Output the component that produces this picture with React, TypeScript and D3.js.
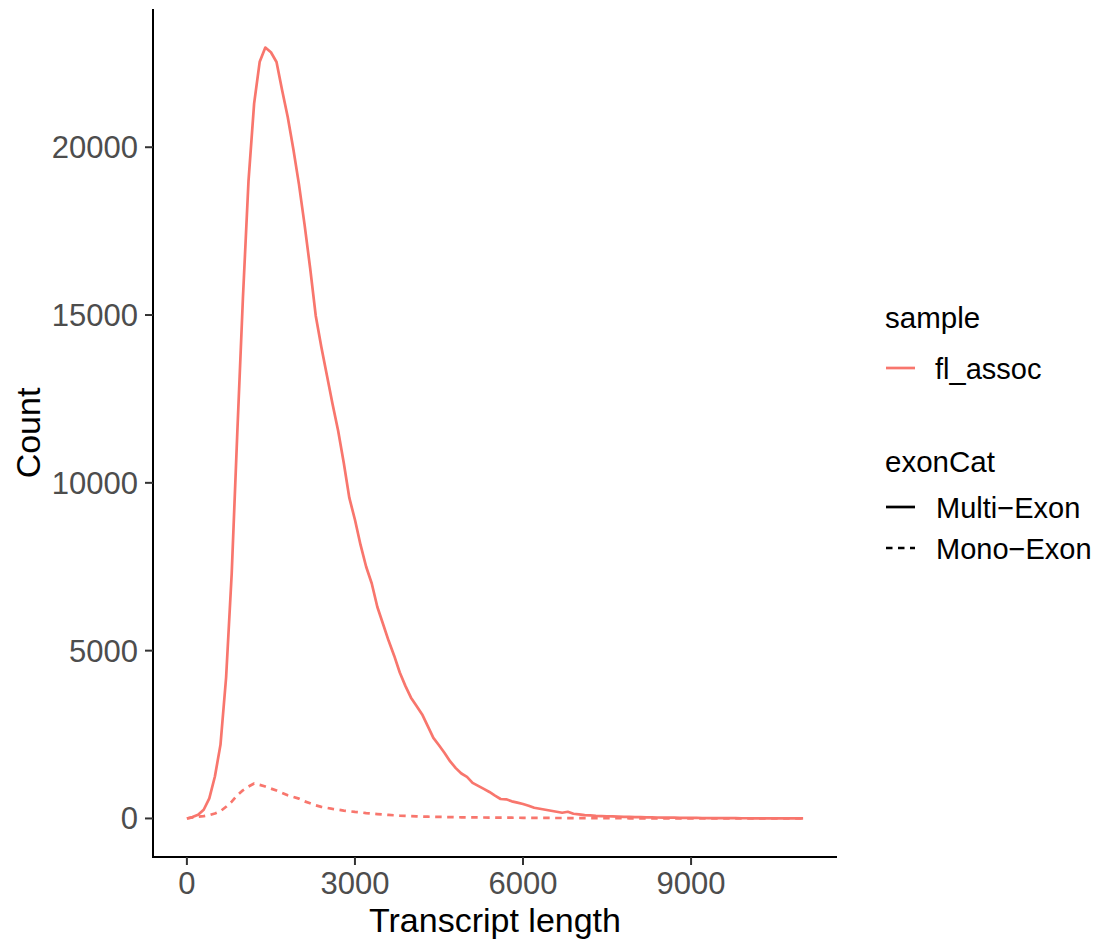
import React, { useRef, useEffect } from "react";
import { select, scaleLinear, line, max, range } from "d3";

const WIDTH = 1098;
const HEIGHT = 942;
const PANEL = { left: 153, right: 837, top: 9, bottom: 857 };
const FONT = "'Liberation Sans', Arial, Helvetica, sans-serif";
const COLOR_LINE = "#F8766D";
const COLOR_TICK_TEXT = "#4D4D4D";

// freqpoly bins, 100 bp wide
const BIN_WIDTH = 100;
const X_LIMITS = [-50, 11050];
const X_TICKS = [0, 3000, 6000, 9000];
const Y_TICKS = [0, 5000, 10000, 15000, 20000];

const MULTI_EXON = [
  0, 40, 110, 260, 600, 1250, 2200, 4200, 7300, 11500,
  15500, 19000, 21300, 22550, 22970, 22830, 22540, 21700, 20900, 19950,
  18900, 17700, 16400, 14980, 14050, 13200, 12350, 11550, 10600, 9550,
  8900, 8150, 7500, 7000, 6300, 5800, 5300, 4850, 4350, 3950,
  3600, 3350, 3100, 2750, 2400, 2180, 1950, 1700, 1500, 1340,
  1240, 1060, 970, 880, 790, 680, 580, 570, 510, 470,
  430, 380, 320, 290, 260, 230, 200, 170, 200, 140,
  120, 100, 90, 75, 70, 65, 60, 55, 50, 46,
  42, 38, 35, 32, 29, 26, 24, 22, 20, 18,
  16, 15, 13, 12, 11, 10, 9, 8, 7, 6,
  6, 5, 4, 4, 3, 3, 2, 2, 2, 1, 1,
];

const MONO_EXON = [
  0, 30, 50, 70, 100, 150, 220, 350, 500, 690,
  840, 950, 1040, 1000, 950, 890, 830, 760, 690, 640,
  590, 510, 450, 390, 345, 315, 285, 260, 235, 215,
  195, 180, 160, 145, 130, 118, 105, 95, 82, 75,
  68, 62, 57, 52, 49, 46, 43, 40, 37, 35,
  33, 31, 30, 28, 27, 26, 24, 23, 22, 21,
  20, 19, 18, 17, 16, 15, 14, 13, 12, 11,
  10, 9, 9, 8, 8, 7, 7, 6, 6, 5,
  5, 5, 4, 4, 4, 3, 3, 3, 3, 2,
  2, 2, 2, 2, 2, 1, 1, 1, 1, 1,
  1, 1, 1, 1, 1, 0, 0, 0, 0, 0, 0,
];

const SERIES = [
  { name: "Multi-Exon", label: "Multi\u2212Exon", values: MULTI_EXON, dash: null },
  { name: "Mono-Exon", label: "Mono\u2212Exon", values: MONO_EXON, dash: "6.5 5.5" },
];

const expand = (lo: number, hi: number) => {
  const pad = (hi - lo) * 0.05;
  return [lo - pad, hi + pad];
};

const addAxes = (svg, x, y) => {
  const axisColor = "#000000";

  svg
    .append("line")
    .attr("x1", PANEL.left)
    .attr("x2", PANEL.left)
    .attr("y1", PANEL.top)
    .attr("y2", PANEL.bottom)
    .attr("stroke", axisColor)
    .attr("stroke-width", 2);

  svg
    .append("line")
    .attr("x1", PANEL.left - 1)
    .attr("x2", PANEL.right)
    .attr("y1", PANEL.bottom)
    .attr("y2", PANEL.bottom)
    .attr("stroke", axisColor)
    .attr("stroke-width", 2);

  const yTicks = svg.append("g").selectAll("g").data(Y_TICKS).enter().append("g");
  yTicks
    .append("line")
    .attr("x1", PANEL.left - 8)
    .attr("x2", PANEL.left)
    .attr("y1", (d) => y(d))
    .attr("y2", (d) => y(d))
    .attr("stroke", "#333333")
    .attr("stroke-width", 2);
  yTicks
    .append("text")
    .attr("x", PANEL.left - 15)
    .attr("y", (d) => y(d) + 11)
    .attr("text-anchor", "end")
    .attr("font-family", FONT)
    .attr("font-size", 31)
    .attr("fill", COLOR_TICK_TEXT)
    .text((d) => String(d));

  const xTicks = svg.append("g").selectAll("g").data(X_TICKS).enter().append("g");
  xTicks
    .append("line")
    .attr("x1", (d) => x(d))
    .attr("x2", (d) => x(d))
    .attr("y1", PANEL.bottom)
    .attr("y2", PANEL.bottom + 8)
    .attr("stroke", "#333333")
    .attr("stroke-width", 2);
  xTicks
    .append("text")
    .attr("x", (d) => x(d))
    .attr("y", PANEL.bottom + 37)
    .attr("text-anchor", "middle")
    .attr("font-family", FONT)
    .attr("font-size", 31)
    .attr("fill", COLOR_TICK_TEXT)
    .text((d) => String(d));

  svg
    .append("text")
    .attr("x", (PANEL.left + PANEL.right) / 2)
    .attr("y", 932)
    .attr("text-anchor", "middle")
    .attr("font-family", FONT)
    .attr("font-size", 34)
    .attr("fill", "#000000")
    .text("Transcript length");

  svg
    .append("text")
    .attr("transform", `translate(40,${(PANEL.top + PANEL.bottom) / 2}) rotate(-90)`)
    .attr("text-anchor", "middle")
    .attr("font-family", FONT)
    .attr("font-size", 34)
    .attr("fill", "#000000")
    .text("Count");
};

const addLines = (svg, x, y, lengths) => {
  SERIES.forEach((s) => {
    const path = line<number>()
      .x((d, i) => x(lengths[i]))
      .y((d) => y(d));

    svg
      .append("path")
      .datum(s.values)
      .attr("fill", "none")
      .attr("stroke", COLOR_LINE)
      .attr("stroke-width", 2.7)
      .attr("stroke-linejoin", "round")
      .attr("stroke-dasharray", s.dash)
      .attr("d", path);
  });
};

const addLegend = (svg) => {
  const g = svg.append("g").attr("font-family", FONT).attr("fill", "#000000");

  g.append("text").attr("x", 885).attr("y", 328).attr("font-size", 29.5).text("sample");
  g.append("line")
    .attr("x1", 886)
    .attr("x2", 915)
    .attr("y1", 368)
    .attr("y2", 368)
    .attr("stroke", COLOR_LINE)
    .attr("stroke-width", 2.7);
  g.append("text").attr("x", 935).attr("y", 378.5).attr("font-size", 29).text("fl_assoc");

  g.append("text").attr("x", 885).attr("y", 472).attr("font-size", 29.5).text("exonCat");

  const keyY = [507, 548];
  SERIES.forEach((s, i) => {
    g.append("line")
      .attr("x1", 886)
      .attr("x2", 915)
      .attr("y1", keyY[i])
      .attr("y2", keyY[i])
      .attr("stroke", "#000000")
      .attr("stroke-width", 2.7)
      .attr("stroke-dasharray", s.dash);
    g.append("text")
      .attr("x", 936)
      .attr("y", keyY[i] + 10.5)
      .attr("font-size", 29)
      .text(s.label);
  });
};

export default function App() {
  const chartDomNode = useRef<HTMLDivElement>(null);

  useEffect(() => {
    document.body.style.margin = "0";
    const node = chartDomNode.current;
    if (!node) return;
    node.innerHTML = "";

    const lengths = range(MULTI_EXON.length).map((i) => i * BIN_WIDTH);
    const yMax = max([...MULTI_EXON, ...MONO_EXON]) as number;

    const x = scaleLinear()
      .domain(expand(X_LIMITS[0], X_LIMITS[1]))
      .range([PANEL.left, PANEL.right]);
    const y = scaleLinear()
      .domain(expand(0, yMax))
      .range([PANEL.bottom, PANEL.top]);

    const svg = select(node)
      .append("svg")
      .attr("width", WIDTH)
      .attr("height", HEIGHT)
      .style("display", "block")
      .style("background", "#ffffff");

    addAxes(svg, x, y);
    addLines(svg, x, y, lengths);
    addLegend(svg);
  }, []);

  return <div ref={chartDomNode} />;
}
